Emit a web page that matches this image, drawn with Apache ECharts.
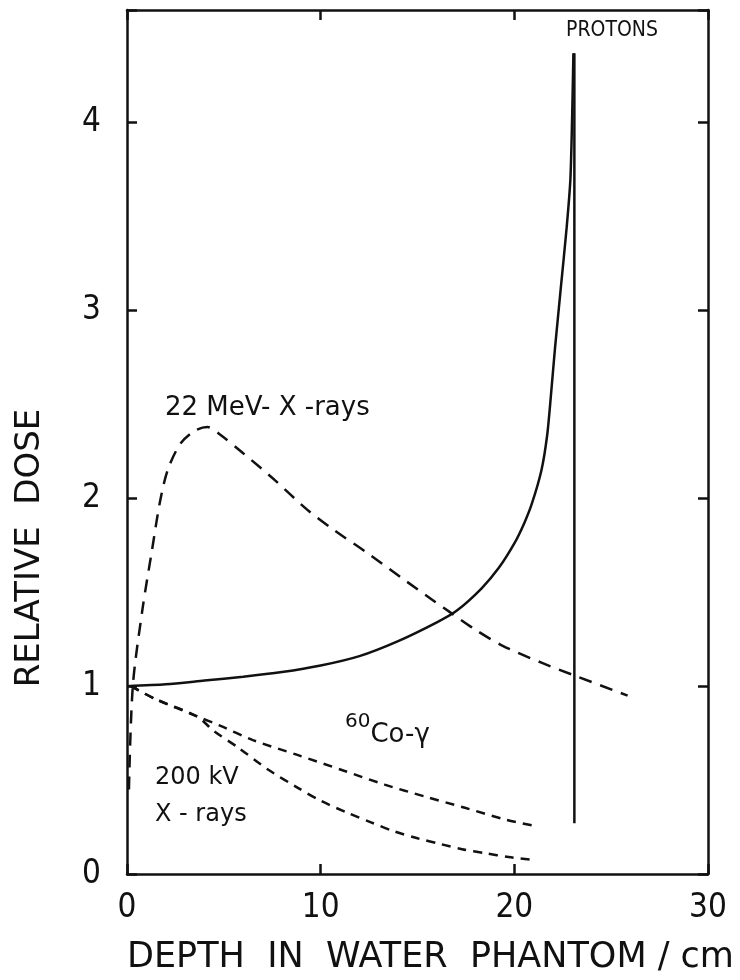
<!DOCTYPE html>
<html>
<head>
<meta charset="utf-8">
<script src="https://cdn.jsdelivr.net/npm/echarts@6/dist/echarts.min.js"></script>
<style>
  html, body { margin: 0; background: #fff; }
  #chart { width: 740px; height: 980px; }
</style>
</head>
<body>
<div id="chart"></div>
<script>
// depth (cm) vs relative dose
const protons = [
  [0, 1.0], [2, 1.01], [4, 1.03], [6, 1.05], [8, 1.075], [10, 1.11], [12, 1.16],
  [14, 1.24], [16, 1.34], [17, 1.40], [18.3, 1.52], [19.2, 1.63], [20, 1.76],
  [20.5, 1.865], [20.9, 1.97], [21.4, 2.15], [21.7, 2.34], [21.9, 2.56], [22.1, 2.80],
  [22.4, 3.12], [22.7, 3.44], [22.9, 3.71], [23.05, 4.37]
];
const protonsEdge = [[23.1, 4.37], [23.1, 0.27]];
const mev22 = [
  [0.1, 0.45], [0.3, 1.0], [0.8, 1.41], [1.3, 1.73], [1.7, 1.98], [2.1, 2.15],
  [2.75, 2.29], [3.5, 2.36], [4.15, 2.38], [4.8, 2.34], [6, 2.24], [7.6, 2.10],
  [9.3, 1.94], [10.7, 1.83], [12.4, 1.71], [14.2, 1.575], [15.9, 1.45],
  [16.8, 1.385], [18.0, 1.30], [19.4, 1.215], [21.4, 1.125], [23.1, 1.057], [25.85, 0.95]
];
const cobalt60 = [
  [0.2, 1.0], [1.5, 0.93], [3.6, 0.84], [4.8, 0.79], [6.5, 0.713], [8.8, 0.634],
  [11.2, 0.55], [13.3, 0.476], [15.4, 0.412], [17.4, 0.354], [19.5, 0.291], [20.9, 0.259]
];
const kv200 = [
  [0.2, 1.0], [1.5, 0.93], [3.6, 0.84], [4.5, 0.76], [5.7, 0.676], [7.3, 0.555],
  [8.8, 0.46], [10.0, 0.39], [11.4, 0.325], [12.6, 0.275], [13.8, 0.227], [15.0, 0.19],
  [16.2, 0.159], [17.3, 0.132], [18.5, 0.111], [19.7, 0.09], [21.1, 0.074]
];
const xRange = [0, 30];
const yRange = [0, 4.6];

const chart = echarts.init(document.getElementById('chart'));

const lbl = "'DejaVu Sans', sans-serif";
const narrow = "'DejaVu Sans Condensed', 'DejaVu Sans', sans-serif";
const ink = '#111';

function lineSeries(name, data, dash, smooth) {
  return {
    name: name,
    type: 'line',
    data: data,
    showSymbol: false,
    smooth: smooth,
    lineStyle: { color: ink, width: 2.5, type: dash },
    silent: true
  };
}

const axisCommon = {
  axisLine: { show: true, onZero: false, lineStyle: { color: ink, width: 2.5 } },
  axisTick: { show: true, inside: true, length: 10, lineStyle: { color: ink, width: 2.5 } },
  splitLine: { show: false }
};

chart.setOption({
  animation: false,
  backgroundColor: '#fff',
  grid: { left: 127, right: 32, top: 10, bottom: 100 },
  xAxis: [
    Object.assign({
      type: 'value', min: xRange[0], max: xRange[1], interval: 10, position: 'bottom',
      name: 'DEPTH  IN  WATER  PHANTOM / cm', nameLocation: 'middle', nameGap: 66,
      nameTextStyle: { fontFamily: lbl, fontSize: 35, color: ink, padding: [0, 0, 0, 26] },
      axisLabel: { fontFamily: narrow, fontSize: 33, color: ink, margin: 18 }
    }, axisCommon),
    Object.assign({
      type: 'value', min: xRange[0], max: xRange[1], interval: 10, position: 'top',
      axisLabel: { show: false }
    }, axisCommon)
  ],
  yAxis: [
    Object.assign({
      type: 'value', min: yRange[0], max: yRange[1], interval: 1, position: 'left',
      axisLabel: {
        fontFamily: narrow, fontSize: 33, color: ink, margin: 26,
        formatter: v => (Number.isInteger(v) ? String(v) : '')
      }
    }, axisCommon),
    Object.assign({
      type: 'value', min: yRange[0], max: yRange[1], interval: 1, position: 'right',
      axisLabel: { show: false }
    }, axisCommon)
  ],
  series: [
    lineSeries('Protons', protons, 'solid', 0.25),
    lineSeries('Protons edge', protonsEdge, 'solid', false),
    lineSeries('22 MeV X-rays', mev22, [13, 9], 0.3),
    lineSeries('60Co-γ', cobalt60, [9, 7], 0.3),
    lineSeries('200 kV X-rays', kv200, [9, 7], 0.3)
  ],
  graphic: [
    { type: 'text', x: 612, y: 31, style: { text: 'PROTONS', font: "21px 'DejaVu Sans Condensed', sans-serif", fill: ink, align: 'center', verticalAlign: 'middle' } },
    { type: 'text', x: 165, y: 408, style: { text: '22 MeV- X -rays', font: "26px 'DejaVu Sans', sans-serif", fill: ink, verticalAlign: 'middle' } },
    { type: 'text', x: 345, y: 730, style: {
        text: '{s|60}{b|Co-γ}', fill: ink, verticalAlign: 'middle',
        rich: {
          s: { fontFamily: lbl, fontSize: 20, color: ink, verticalAlign: 'top', padding: [0, 0, 14, 0] },
          b: { fontFamily: lbl, fontSize: 26, color: ink, padding: [10, 0, 0, 0] }
        }
      } },
    { type: 'text', x: 155, y: 778, style: { text: '200 kV', font: "24px 'DejaVu Sans', sans-serif", fill: ink, verticalAlign: 'middle' } },
    { type: 'text', x: 155, y: 815, style: { text: 'X - rays', font: "24px 'DejaVu Sans', sans-serif", fill: ink, verticalAlign: 'middle' } },
    { type: 'text', x: 30, y: 548, rotation: Math.PI / 2, style: { text: 'RELATIVE  DOSE', font: "34px 'DejaVu Sans', sans-serif", fill: ink, align: 'center', verticalAlign: 'middle' } }
  ]
});
</script>
</body>
</html>
